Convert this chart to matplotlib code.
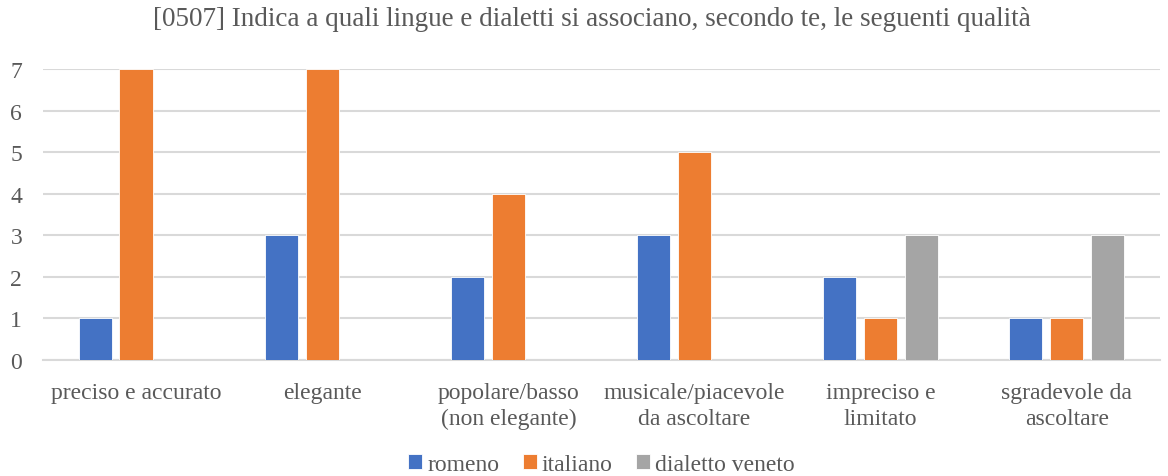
import matplotlib
matplotlib.use("Agg")
import matplotlib.pyplot as plt
import numpy as np

categories = ["preciso e accurato", "elegante", "popolare/basso\n(non elegante)",
              "musicale/piacevole\nda ascoltare", "impreciso e\nlimitato", "sgradevole da\nascoltare"]
series_names = ["romeno", "italiano", "dialetto veneto"]
romeno = [1, 3, 2, 3, 2, 1]
italiano = [7, 7, 4, 5, 1, 1]
veneto = [0, 0, 0, 0, 3, 3]
yticks = [0, 1, 2, 3, 4, 5, 6, 7]
title = "[0507] Indica a quali lingue e dialetti si associano, secondo te, le seguenti qualità"

colors = ["#4472C4", "#ED7D31", "#A5A5A5"]
txt = "#595959"
plt.rcParams['font.family'] = ['Liberation Serif', 'DejaVu Serif']

fig = plt.figure(figsize=(11.68, 4.77), dpi=100)
ax = fig.add_axes([0.0368, 0.2432, 0.9562, 0.61])

x = np.arange(len(categories))
w = 0.178
step = 0.22
for i, (vals, name) in enumerate(zip([romeno, italiano, veneto], series_names)):
    ax.bar(x + (i - 1) * step, vals, width=w, color=colors[i], label=name,
           edgecolor="white", linewidth=0.6, zorder=3)

ax.set_xlim(-0.5, len(categories) - 0.5)
ax.set_ylim(0, 7)
ax.set_yticks(yticks)
ax.yaxis.grid(True, color="#D9D9D9", linewidth=1.5, zorder=0)
ax.set_axisbelow(True)
for s in ["top", "right", "left"]:
    ax.spines[s].set_visible(False)
ax.spines["bottom"].set_color("#D9D9D9")
ax.spines["bottom"].set_linewidth(1.5)
ax.set_xticks(x)
ax.set_xticklabels(categories, fontsize=17, color=txt, linespacing=1.28, va="top")
ax.tick_params(axis="x", length=0, pad=16)
ax.tick_params(axis="y", length=0, labelsize=17, labelcolor=txt, pad=15)
for lbl in ax.get_yticklabels():
    lbl.set_horizontalalignment("right")

fig.suptitle(title, fontsize=19.5, color=txt, x=0.507, y=0.985)
leg = fig.legend(loc="lower center", bbox_to_anchor=(0.515, -0.043), ncol=3, frameon=False,
                 fontsize=17, handlelength=0.6, handleheight=0.6, handletextpad=0.2,
                 columnspacing=1.0, labelcolor=txt)

fig.savefig("out.png", dpi=100)
